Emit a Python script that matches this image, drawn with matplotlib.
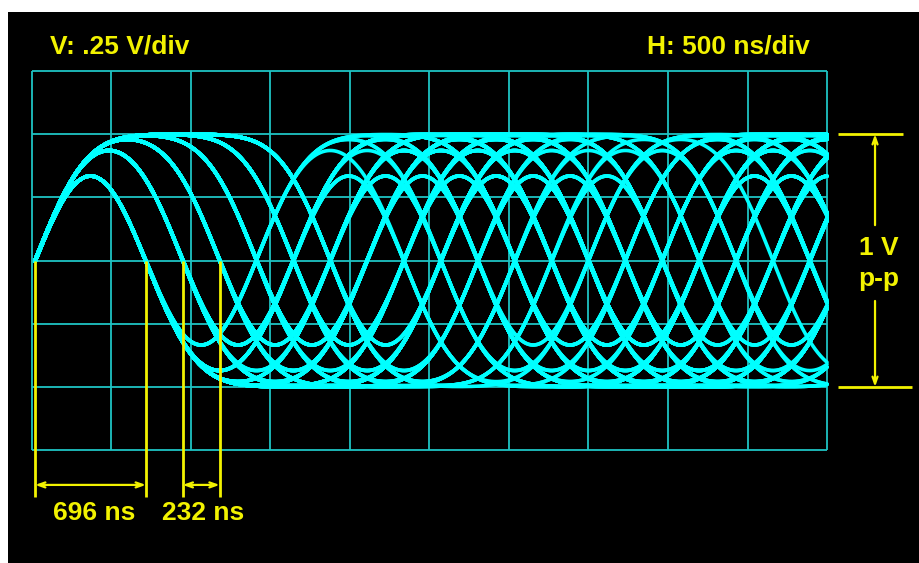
import numpy as np
import matplotlib.pyplot as plt

# scope settings
V_PER_DIV = 0.25
NS_PER_DIV = 500
N_HDIV = 10
N_VDIV = 6

# read-back signal: RLL data, bit cell T, runs of 3T..8T between transitions
T_NS = 232
EDGE_NS = 355          # width of one smoothed transition
LEVEL_V = 0.5          # +/- level of a long run
t_start = 20           # trigger point on screen

# run lengths (in T) of the recorded data stream; the first edge is rising
run_lengths = [3, 5, 8, 3, 4, 6, 3, 7, 5, 3, 4, 3, 6, 8, 3, 5, 4, 7, 3, 3,
               6, 4, 5, 3, 8, 4, 3, 7, 6, 3, 5, 3, 4, 4, 7, 3, 6, 5, 8, 3,
               3, 4, 5, 6, 3, 7, 4, 3, 8, 5, 4, 6, 3, 3, 5, 7, 4, 8, 3, 6,
               7, 3, 5, 4, 3, 6, 4, 8, 5, 3, 3, 7, 4, 6, 5, 3, 8, 4, 3, 5,
               6, 3, 4, 7, 3, 5, 3, 8, 6, 4, 4, 3, 7, 5, 6, 3, 4, 3, 8, 7,
               5, 4, 3, 6, 3, 8, 4, 5, 7, 3, 3, 6, 5, 4, 8, 3, 7, 4, 3, 6,
               8, 5, 3, 4, 6, 7, 3, 3, 5, 4, 4, 8, 6, 3, 5, 3, 4, 7, 5, 3,
               7, 3, 4, 5, 8, 6, 3, 4, 3, 6, 5, 7, 3, 4, 3, 8, 5, 6, 4, 3]

# measurement markers (ns from trigger)
span_labels = ['696 ns', '232 ns']
span_edges = [(0, 3 * T_NS), (4 * T_NS, 5 * T_NS)]
pp_volts = 1.0

YEL = '#f2f200'
CYAN = '#00ffff'
GRID = '#1fc4c4'
FONT = dict(family='Liberation Sans', weight='bold', color=YEL, fontsize=19)


def erf(x):
    # Abramowitz & Stegun 7.1.26
    s = np.sign(x)
    x = np.abs(x)
    k = 1 / (1 + 0.3275911 * x)
    p = k * (0.254829592 + k * (-0.284496736 + k * (1.421413741
             + k * (-1.453152027 + k * 1.061405429))))
    return s * (1 - p * np.exp(-x * x))


edge_times = np.concatenate([[0], np.cumsum(run_lengths)]) * T_NS
edge_sign = np.where(np.arange(len(edge_times)) % 2 == 0, 1.0, -1.0)


def signal(tau):
    lo, hi = tau[0] - 3000, tau[-1] + 3000
    # edges long before the window only shift the level
    y = np.full_like(tau, -LEVEL_V + edge_sign[edge_times < lo].sum() * 2 * LEVEL_V)
    near = (edge_times >= lo) & (edge_times <= hi)
    for e, s in zip(edge_times[near], edge_sign[near]):
        y += s * LEVEL_V * (1 + erf((tau - e) / EDGE_NS))
    return y


fig = plt.figure(figsize=(9.19, 5.63), dpi=100, facecolor='white')
ax = fig.add_axes([8 / 919, 0, 911 / 919, 551 / 563])
ax.set_facecolor('black')
ax.set_xlim(-150.9, 5578.6)
ax.set_ylim(-1.197, 0.9835)
ax.set_xticks([])
ax.set_yticks([])
for s in ax.spines.values():
    s.set_visible(False)

t_end = N_HDIV * NS_PER_DIV
v_top = N_VDIV / 2 * V_PER_DIV

# graticule
xs = np.arange(N_HDIV + 1) * NS_PER_DIV
ys = (np.arange(N_VDIV + 1) - N_VDIV / 2) * V_PER_DIV
ax.vlines(xs, -v_top, v_top, color=GRID, lw=1.3, zorder=1)
ax.hlines(ys, 0, t_end, color=GRID, lw=1.3, zorder=1)

# infinite persistence: a sweep at every edge (falling edges seen inverted,
# the code is polarity-free)
t = np.linspace(0, t_end - t_start, 2000)
for i in range(2, len(edge_times)):
    trig = edge_times[i]
    if trig + t_end > edge_times[-1]:
        break
    ax.plot(t + t_start, edge_sign[i] * signal(t + trig), color=CYAN, lw=2.6,
            solid_capstyle='round', zorder=2)

# header text
ax.text(113, 0.845, 'V: .25 V/div', ha='left', va='center', **FONT)
ax.text(4893, 0.845, 'H: 500 ns/div', ha='right', va='center', **FONT)

# time spans under the graticule
arrow = dict(arrowstyle='<->,head_length=0.5,head_width=0.18', color=YEL,
             lw=1.6, shrinkA=0, shrinkB=0)
for label, (a, b) in zip(span_labels, span_edges):
    x0, x1 = a + t_start, b + t_start
    ax.vlines([x0, x1], -0.936, 0, color=YEL, lw=2, zorder=3)
    ax.annotate('', xy=(x0, -0.888), xytext=(x1, -0.888), arrowprops=arrow)
ax.text(390, -1.0, span_labels[0], ha='center', va='center', **FONT)
ax.text(1075, -1.0, span_labels[1], ha='center', va='center', **FONT)

# peak-to-peak marker on the right
one_way = dict(arrow, arrowstyle='->,head_length=0.5,head_width=0.18')
ax.hlines(pp_volts / 2, 5069, 5478, color=YEL, lw=2)
ax.hlines(-pp_volts / 2, 5069, 5535, color=YEL, lw=2)
ax.annotate('', xy=(5302, pp_volts / 2), xytext=(5302, 0.14), arrowprops=one_way)
ax.annotate('', xy=(5302, -pp_volts / 2), xytext=(5302, -0.16), arrowprops=one_way)
ax.text(5327, 0.05, '1 V', ha='center', va='center', **FONT)
ax.text(5327, -0.075, 'p-p', ha='center', va='center', **FONT)

fig.savefig('out.png', dpi=100, facecolor='white')
